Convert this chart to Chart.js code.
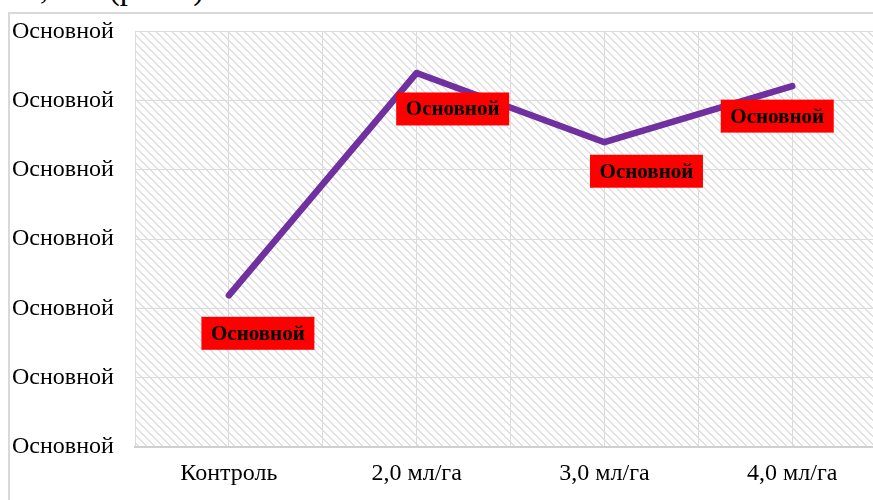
<!DOCTYPE html>
<html lang="ru">
<head>
<meta charset="UTF-8">
<title>Рис. 1</title>
<script src="https://cdn.jsdelivr.net/npm/chart.js"></script>
<style>
  html, body { margin: 0; padding: 0; background: #fff; overflow: hidden; width: 873px; height: 500px; }
  .caption { position: absolute; left: -4px; top: -30px; font: 33px "Liberation Serif", serif; color: #000; white-space: nowrap; }
  .frame { position: absolute; left: 8px; top: 12px; width: 900px; height: 520px; border-left: 2px solid #d9d9d9; border-top: 2px solid #d9d9d9; }
  .box { position: absolute; left: 10px; top: 14px; width: 863px; height: 486px; }
</style>
</head>
<body>
<div class="caption">8-9,5 % (рис.1).</div>
<div class="frame"></div>
<div class="box"><canvas id="chart"></canvas></div>

<script>
// doses along the x axis
const categories = ['Контроль', '2,0 мл/га', '3,0 мл/га', '4,0 мл/га'];
const values = [2.19, 5.40, 4.40, 5.21];
const pointLabels = ['Основной', 'Основной', 'Основной', 'Основной'];
const yTickLabel = 'Основной';

// where each red label box sits relative to its point
const labelOffsets = [[29, 38], [36, 36], [42, 29], [-15, 30]];

Chart.defaults.font.family = '"Liberation Serif", "Times New Roman", serif';
Chart.defaults.font.size = 24;
Chart.defaults.color = '#000';

// light "wide downward diagonal" fill for the plot area
function makeHatch() {
    const c = document.createElement('canvas');
    c.width = 8; c.height = 8;
    const g = c.getContext('2d');
    g.fillStyle = '#fff';
    g.fillRect(0, 0, 8, 8);
    g.fillStyle = '#e0e0e0';
    for (let y = 0; y < 8; y++) {
        for (let x = 0; x < 8; x++) {
            if (((x - y) % 8 + 8) % 8 < 2) g.fillRect(x, y, 1, 1);
        }
    }
    return c;
}

const hatchBg = {
    id: 'hatchBg',
    beforeDraw(chart) {
        const { ctx, chartArea: a } = chart;
        ctx.save();
        ctx.fillStyle = ctx.createPattern(makeHatch(), 'repeat');
        ctx.fillRect(a.left, a.top, a.right - a.left, a.bottom - a.top);
        ctx.restore();
    }
};

const boxLabels = {
    id: 'boxLabels',
    afterDatasetsDraw(chart) {
        const ctx = chart.ctx;
        const meta = chart.getDatasetMeta(0);
        ctx.save();
        ctx.font = 'bold 21px "Liberation Serif", serif';
        ctx.textAlign = 'center';
        ctx.textBaseline = 'middle';
        meta.data.forEach((pt, i) => {
            const cx = pt.x + labelOffsets[i][0];
            const cy = pt.y + labelOffsets[i][1];
            ctx.fillStyle = '#ff0000';
            ctx.fillRect(cx - 56.5, cy - 16.5, 113, 33);
            ctx.fillStyle = '#000';
            ctx.fillText(pointLabels[i], cx, cy + 1);
        });
        ctx.restore();
    }
};

new Chart(document.getElementById('chart'), {
    type: 'line',
    data: {
        datasets: [{
            data: categories.map((c, i) => ({ x: i, y: values[i] })),
            borderColor: '#7030a0',
            borderWidth: 6.5,
            borderCapStyle: 'round',
            borderJoinStyle: 'round',
            pointRadius: 0,
            tension: 0,
            fill: false
        }]
    },
    options: {
        responsive: true,
        maintainAspectRatio: false,
        animation: false,
        layout: { padding: { left: 2, top: 16, right: 0, bottom: 0 } },
        plugins: { legend: { display: false }, tooltip: { enabled: false } },
        scales: {
            x: {
                type: 'linear',
                min: -0.5,
                max: 3.43,
                afterBuildTicks(scale) {
                    scale.ticks = scale.ticks.filter(t => Math.abs(t.value * 2 - Math.round(t.value * 2)) < 1e-6);
                },
                afterFit(scale) { scale.height = 53; },
                ticks: {
                    stepSize: 0.5,
                    includeBounds: false,
                    autoSkip: false,
                    maxRotation: 0,
                    padding: 12,
                    callback: v => (Number.isInteger(v) && categories[v]) ? categories[v] : ''
                },
                grid: { color: '#dcdcdc', lineWidth: 1, drawTicks: false },
                border: { color: '#d0d0d0', width: 2 }
            },
            y: {
                min: 0,
                max: 6,
                afterFit(scale) { scale.width = 123; },
                ticks: {
                    stepSize: 1,
                    crossAlign: 'far',
                    callback: () => yTickLabel
                },
                grid: { color: '#dcdcdc', lineWidth: 1, drawTicks: false },
                border: { display: false }
            }
        }
    },
    plugins: [hatchBg, boxLabels]
});
</script>
</body>
</html>
